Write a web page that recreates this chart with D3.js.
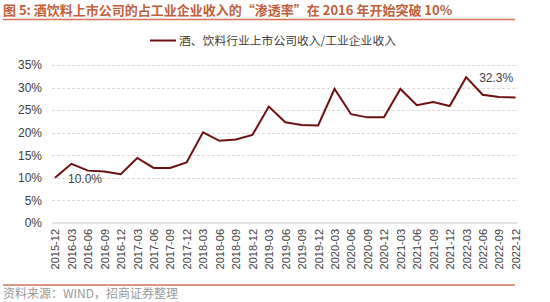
<!DOCTYPE html>
<html>
<head>
<meta charset="utf-8">
<script src="https://cdn.jsdelivr.net/npm/d3@7"></script>
<style>
  body { margin: 0; background: #fff; }
  svg { display: block; }
</style>
</head>
<body>
<svg id="chart"></svg>
<script>
var width = 550, height = 302

// quarters, 2015-12 .. 2022-12
var periods = ["2015-12", "2016-03", "2016-06", "2016-09", "2016-12",
    "2017-03", "2017-06", "2017-09", "2017-12",
    "2018-03", "2018-06", "2018-09", "2018-12",
    "2019-03", "2019-06", "2019-09", "2019-12",
    "2020-03", "2020-06", "2020-09", "2020-12",
    "2021-03", "2021-06", "2021-09", "2021-12",
    "2022-03", "2022-06", "2022-09", "2022-12"]

// 酒、饮料行业上市公司收入/工业企业收入 (%)
var ratio = [10.0, 13.1, 11.6, 11.4, 10.8,
    14.4, 12.2, 12.2, 13.4,
    20.1, 18.2, 18.5, 19.5,
    25.8, 22.3, 21.7, 21.6,
    29.7, 24.1, 23.4, 23.4,
    29.7, 26.1, 26.8, 25.9,
    32.3, 28.4, 27.9, 27.8]

var yTicks = [0, 5, 10, 15, 20, 25, 30, 35]
var annotated = [0, 25]   // indices with value labels

var svg = d3.select("#chart")
    .attr("width", width)
    .attr("height", height)

var cjk = "'Noto Sans CJK SC', 'Liberation Sans', sans-serif"
var latin = "'Liberation Sans', Arial, sans-serif"

// title + rules
svg.append("text")
    .attr("x", 3)
    .attr("y", 15)
    .attr("fill", "#c0603a")
    .style("font-family", cjk)
    .style("font-size", "13px")
    .style("font-weight", "bold")
    .text("图 5: 酒饮料上市公司的占工业企业收入的“渗透率”在 2016 年开始突破 10%")

svg.append("line")
    .attr("x1", 3).attr("x2", 515)
    .attr("y1", 19.5).attr("y2", 19.5)
    .attr("stroke", "#d27556")
    .attr("stroke-width", 1.5)

svg.append("line")
    .attr("x1", 3).attr("x2", 515)
    .attr("y1", 285).attr("y2", 285)
    .attr("stroke", "#d27556")
    .attr("stroke-width", 1.5)

svg.append("text")
    .attr("x", 3)
    .attr("y", 298)
    .attr("fill", "#999")
    .style("font-family", cjk)
    .style("font-size", "12px")
    .text("资料来源：WIND，招商证券整理")

// scales
var x = d3.scalePoint()
    .domain(periods)
    .range([55, 515.5])

var y = d3.scaleLinear()
    .domain([0, 35])
    .range([223, 65])

// gridlines
var grid = svg.append("g")
grid.selectAll("line")
    .data(yTicks.filter(d => d > 0))
    .enter()
    .append("line")
    .attr("x1", 52).attr("x2", 518)
    .attr("y1", d => Math.round(y(d)) + 0.5)
    .attr("y2", d => Math.round(y(d)) + 0.5)
    .attr("stroke", "#d9d9d9")
    .attr("stroke-dasharray", "3,2")

svg.append("line")
    .attr("x1", 52).attr("x2", 518)
    .attr("y1", y(0)).attr("y2", y(0))
    .attr("stroke", "#d9d9d9")
    .attr("stroke-width", 1.5)

// y axis labels
var yAxis = d3.axisLeft(y)
    .tickValues(yTicks)
    .tickFormat(d => d + "%")
    .tickSize(0)
    .tickPadding(0)

svg.append("g")
    .attr("transform", "translate(42,0)")
    .call(yAxis)
    .call(g => g.select(".domain").remove())
    .selectAll("text")
    .attr("fill", "#404040")
    .style("font-family", latin)
    .style("font-size", "12px")

// x axis labels, rotated
var xAxis = d3.axisBottom(x)
    .tickSize(0)
    .tickPadding(0)

svg.append("g")
    .attr("transform", "translate(0," + 229 + ")")
    .call(xAxis)
    .call(g => g.select(".domain").remove())
    .selectAll("text")
    .attr("fill", "#404040")
    .style("font-family", latin)
    .style("font-size", "11px")
    .attr("text-anchor", "end")
    .attr("dy", "0.35em")
    .attr("transform", "rotate(-90)")
    .attr("x", 0)
    .attr("y", 0)

// line
var line = d3.line()
    .x((d, i) => x(periods[i]))
    .y(d => y(d))

svg.append("path")
    .datum(ratio)
    .attr("d", line)
    .attr("fill", "none")
    .attr("stroke", "#6e0f12")
    .attr("stroke-width", 2)
    .attr("stroke-linejoin", "miter")

// value labels
svg.selectAll(".vlab")
    .data(annotated)
    .enter()
    .append("text")
    .attr("class", "vlab")
    .attr("x", i => x(periods[i]) + 13)
    .attr("y", i => i == 0 ? y(ratio[i]) + 5.5 : y(ratio[i]) + 4.5)
    .attr("fill", "#404040")
    .style("font-family", latin)
    .style("font-size", "12px")
    .text(i => ratio[i].toFixed(1) + "%")

// legend
var legend = svg.append("g")
    .attr("transform", "translate(150,40)")

legend.append("line")
    .attr("x1", 0).attr("x2", 26)
    .attr("y1", 0.5).attr("y2", 0.5)
    .attr("stroke", "#6e0f12")
    .attr("stroke-width", 2)

legend.append("text")
    .attr("x", 29)
    .attr("y", 4.5)
    .attr("fill", "#404040")
    .style("font-family", cjk)
    .style("font-size", "11.8px")
    .text("酒、饮料行业上市公司收入/工业企业收入")
</script>
</body>
</html>
